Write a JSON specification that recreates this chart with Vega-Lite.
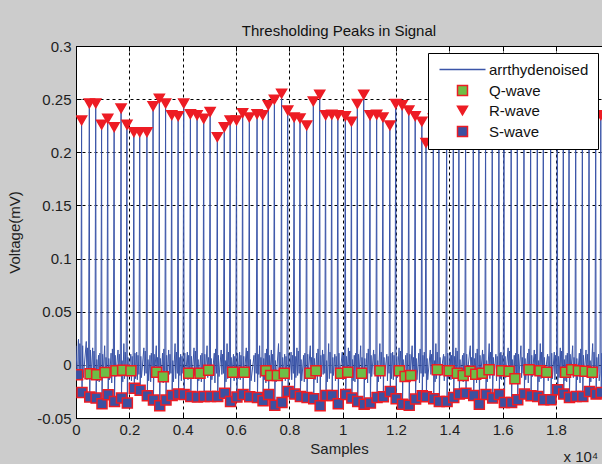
{
"$schema":"https://vega.github.io/schema/vega-lite/v6.json",
"autosize":{"type":"none"},
"padding":{"left":76,"top":46,"right":0,"bottom":46},
"width":526,"height":372,
"background":"#cccccc",
"title":{"text":"Thresholding Peaks in Signal","fontSize":15,"fontWeight":"normal","color":"#111111","font":"Liberation Sans","offset":0,"anchor":"middle"},
"config":{
"font":"Liberation Sans",
"view":{"stroke":"#000000","strokeWidth":1,"fill":"#ffffff"},
"axis":{"labelFont":"Liberation Sans","labelFontSize":15,"labelColor":"#1e1e1e","titleFont":"Liberation Sans","titleFontSize":15,"titleFontWeight":"normal","titleColor":"#1e1e1e","domainColor":"#000000","tickColor":"#000000","gridColor":"#000000","gridOpacity":1,"gridDash":[3,3],"gridWidth":1,"labelFlush":false}
},
"datasets":{
"sig":[
{"x":0,"y":0.018},{"x":0.003,"y":-0.004},{"x":0.006,"y":-0.0094},{"x":0.0085,"y":0.022},
{"x":0.0095,"y":0.024},{"x":0.012,"y":-0.012},{"x":0.0145,"y":0.02},{"x":0.018,"y":-0.008},{"x":0.021,"y":0.23},{"x":0.0225,"y":-0.026},{"x":0.025,"y":0.018},{"x":0.0275,"y":-0.012},
{"x":0.0385,"y":0.022},{"x":0.041,"y":-0.014},{"x":0.0435,"y":0.016},{"x":0.047,"y":-0.0084},{"x":0.05,"y":0.246},{"x":0.0515,"y":-0.0303},{"x":0.054,"y":0.014},{"x":0.0565,"y":-0.012},
{"x":0.0625,"y":0.016},{"x":0.065,"y":-0.01},{"x":0.0675,"y":0.013},{"x":0.071,"y":-0.0094},{"x":0.074,"y":0.246},{"x":0.0755,"y":-0.0313},{"x":0.078,"y":0.005},{"x":0.0805,"y":-0.015},
{"x":0.0845,"y":0.009},{"x":0.087,"y":-0.016},{"x":0.0895,"y":0.011},{"x":0.093,"y":-0.008},{"x":0.096,"y":0.226},{"x":0.0975,"y":-0.0366},{"x":0.1,"y":0.01},{"x":0.1025,"y":-0.009},
{"x":0.1075,"y":0.018},{"x":0.11,"y":-0.012},{"x":0.1125,"y":0.007},{"x":0.116,"y":-0.0072},{"x":0.119,"y":0.2316},{"x":0.1205,"y":-0.0281},{"x":0.123,"y":0.006},{"x":0.1255,"y":-0.014},
{"x":0.1315,"y":0.011},{"x":0.134,"y":-0.017},{"x":0.1365,"y":0.015},{"x":0.14,"y":-0.0056},{"x":0.143,"y":0.2237},{"x":0.1445,"y":-0.0344},{"x":0.147,"y":0.009},{"x":0.1495,"y":-0.011},
{"x":0.1575,"y":0.014},{"x":0.16,"y":-0.009},{"x":0.1625,"y":0.01},{"x":0.166,"y":-0.005},{"x":0.169,"y":0.2413},{"x":0.1705,"y":-0.0313},{"x":0.173,"y":0.004},{"x":0.1755,"y":-0.016},
{"x":0.1795,"y":0.02},{"x":0.182,"y":-0.013},{"x":0.1845,"y":0.012},{"x":0.188,"y":-0.0056},{"x":0.191,"y":0.226},{"x":0.1925,"y":-0.036},{"x":0.195,"y":0.007},{"x":0.1975,"y":-0.01},
{"x":0.2055,"y":0.01},{"x":0.208,"y":-0.015},{"x":0.2105,"y":0.008},{"x":0.214,"y":-0.008},{"x":0.217,"y":0.219},{"x":0.2185,"y":-0.0219},{"x":0.221,"y":0.011},{"x":0.2235,"y":-0.013},
{"x":0.2275,"y":0.012},{"x":0.23,"y":-0.014},{"x":0.2325,"y":0.009},{"x":0.236,"y":-0.009},{"x":0.239,"y":0.219},{"x":0.2405,"y":-0.0238},{"x":0.243,"y":0.008},{"x":0.2455,"y":-0.012},
{"x":0.2545,"y":0.016},{"x":0.257,"y":-0.01},{"x":0.2595,"y":0.013},{"x":0.263,"y":-0.008},{"x":0.266,"y":0.219},{"x":0.2675,"y":-0.029},{"x":0.27,"y":0.005},{"x":0.2725,"y":-0.015},
{"x":0.2775,"y":0.009},{"x":0.28,"y":-0.016},{"x":0.2825,"y":0.011},{"x":0.286,"y":-0.0069},{"x":0.289,"y":0.2434},{"x":0.2905,"y":-0.0331},{"x":0.293,"y":0.01},{"x":0.2955,"y":-0.009},
{"x":0.301,"y":0.018},{"x":0.3035,"y":-0.012},{"x":0.306,"y":0.007},{"x":0.3095,"y":-0.008},{"x":0.3125,"y":0.2506},{"x":0.314,"y":-0.0384},{"x":0.3165,"y":0.006},{"x":0.319,"y":-0.014},
{"x":0.3245,"y":0.011},{"x":0.327,"y":-0.017},{"x":0.3295,"y":0.015},{"x":0.333,"y":-0.0112},{"x":0.336,"y":0.246},{"x":0.3375,"y":-0.0331},{"x":0.34,"y":0.009},{"x":0.3425,"y":-0.011},
{"x":0.3475,"y":0.014},{"x":0.35,"y":-0.009},{"x":0.3525,"y":0.01},{"x":0.356,"y":-0.008},{"x":0.359,"y":0.235},{"x":0.3605,"y":-0.0288},{"x":0.363,"y":0.004},{"x":0.3655,"y":-0.016},
{"x":0.3715,"y":0.02},{"x":0.374,"y":-0.013},{"x":0.3765,"y":0.012},{"x":0.38,"y":-0.008},{"x":0.383,"y":0.234},{"x":0.3845,"y":-0.0275},{"x":0.387,"y":0.007},{"x":0.3895,"y":-0.01},
{"x":0.3925,"y":0.01},{"x":0.395,"y":-0.015},{"x":0.3975,"y":0.008},{"x":0.401,"y":-0.008},{"x":0.404,"y":0.246},{"x":0.4055,"y":-0.028},{"x":0.408,"y":0.011},{"x":0.4105,"y":-0.013},
{"x":0.4175,"y":0.012},{"x":0.42,"y":-0.014},{"x":0.4225,"y":0.009},{"x":0.426,"y":-0.0078},{"x":0.429,"y":0.236},{"x":0.4305,"y":-0.0297},{"x":0.433,"y":0.008},{"x":0.4355,"y":-0.012},
{"x":0.4425,"y":0.016},{"x":0.445,"y":-0.01},{"x":0.4475,"y":0.013},{"x":0.451,"y":-0.008},{"x":0.454,"y":0.235},{"x":0.4555,"y":-0.0303},{"x":0.458,"y":0.005},{"x":0.4605,"y":-0.015},
{"x":0.4675,"y":0.009},{"x":0.47,"y":-0.016},{"x":0.4725,"y":0.011},{"x":0.476,"y":-0.0078},{"x":0.479,"y":0.2316},{"x":0.4805,"y":-0.0297},{"x":0.483,"y":0.01},{"x":0.4855,"y":-0.009},
{"x":0.4915,"y":0.018},{"x":0.494,"y":-0.012},{"x":0.4965,"y":0.007},{"x":0.5,"y":-0.005},{"x":0.503,"y":0.238},{"x":0.5045,"y":-0.0297},{"x":0.507,"y":0.006},{"x":0.5095,"y":-0.014},
{"x":0.5185,"y":0.011},{"x":0.521,"y":-0.017},{"x":0.5235,"y":0.015},{"x":0.527,"y":-0.008},{"x":0.53,"y":0.2144},{"x":0.5315,"y":-0.0297},{"x":0.534,"y":0.009},{"x":0.5365,"y":-0.011},
{"x":0.5445,"y":0.014},{"x":0.547,"y":-0.009},{"x":0.5495,"y":0.01},{"x":0.553,"y":-0.008},{"x":0.556,"y":0.2237},{"x":0.5575,"y":-0.0266},{"x":0.56,"y":0.004},{"x":0.5625,"y":-0.016},
{"x":0.5665,"y":0.02},{"x":0.569,"y":-0.013},{"x":0.5715,"y":0.012},{"x":0.575,"y":-0.008},{"x":0.578,"y":0.23},{"x":0.5795,"y":-0.0344},{"x":0.582,"y":0.007},{"x":0.5845,"y":-0.01},
{"x":0.5905,"y":0.01},{"x":0.593,"y":-0.015},{"x":0.5955,"y":0.008},{"x":0.599,"y":-0.0069},{"x":0.602,"y":0.23},{"x":0.6035,"y":-0.0303},{"x":0.606,"y":0.011},{"x":0.6085,"y":-0.013},
{"x":0.6135,"y":0.012},{"x":0.616,"y":-0.014},{"x":0.6185,"y":0.009},{"x":0.622,"y":-0.0069},{"x":0.625,"y":0.237},{"x":0.6265,"y":-0.028},{"x":0.629,"y":0.008},{"x":0.6315,"y":-0.012},
{"x":0.6385,"y":0.016},{"x":0.641,"y":-0.01},{"x":0.6435,"y":0.013},{"x":0.647,"y":-0.008},{"x":0.65,"y":0.233},{"x":0.6515,"y":-0.03},{"x":0.654,"y":0.005},{"x":0.6565,"y":-0.015},
{"x":0.6675,"y":0.009},{"x":0.67,"y":-0.016},{"x":0.6725,"y":0.011},{"x":0.676,"y":-0.008},{"x":0.679,"y":0.236},{"x":0.6805,"y":-0.0306},{"x":0.683,"y":0.01},{"x":0.6855,"y":-0.009},
{"x":0.6885,"y":0.018},{"x":0.691,"y":-0.012},{"x":0.6935,"y":0.007},{"x":0.697,"y":-0.008},{"x":0.7,"y":0.235},{"x":0.7015,"y":-0.0338},{"x":0.704,"y":0.006},{"x":0.7065,"y":-0.014},
{"x":0.7095,"y":0.011},{"x":0.712,"y":-0.017},{"x":0.7145,"y":0.015},{"x":0.718,"y":-0.0056},{"x":0.721,"y":0.2444},{"x":0.7225,"y":-0.028},{"x":0.725,"y":0.009},{"x":0.7275,"y":-0.011},
{"x":0.7325,"y":0.014},{"x":0.735,"y":-0.009},{"x":0.7375,"y":0.01},{"x":0.741,"y":-0.01},{"x":0.744,"y":0.2497},{"x":0.7455,"y":-0.0381},{"x":0.748,"y":0.004},{"x":0.7505,"y":-0.016},
{"x":0.7595,"y":0.02},{"x":0.762,"y":-0.013},{"x":0.7645,"y":0.012},{"x":0.768,"y":-0.01},{"x":0.771,"y":0.2553},{"x":0.7725,"y":-0.0353},{"x":0.775,"y":0.007},{"x":0.7775,"y":-0.01},
{"x":0.7825,"y":0.01},{"x":0.785,"y":-0.015},{"x":0.7875,"y":0.008},{"x":0.791,"y":-0.0078},{"x":0.794,"y":0.2394},{"x":0.7955,"y":-0.025},{"x":0.798,"y":0.011},{"x":0.8005,"y":-0.013},
{"x":0.8065,"y":0.012},{"x":0.809,"y":-0.014},{"x":0.8115,"y":0.009},{"x":0.815,"y":-0.008},{"x":0.818,"y":0.233},{"x":0.8195,"y":-0.0275},{"x":0.822,"y":0.008},{"x":0.8245,"y":-0.012},
{"x":0.8285,"y":0.016},{"x":0.831,"y":-0.01},{"x":0.8335,"y":0.013},{"x":0.837,"y":-0.008},{"x":0.84,"y":0.232},{"x":0.8415,"y":-0.0297},{"x":0.844,"y":0.005},{"x":0.8465,"y":-0.015},
{"x":0.8535,"y":0.009},{"x":0.856,"y":-0.016},{"x":0.8585,"y":0.011},{"x":0.862,"y":-0.008},{"x":0.865,"y":0.2253},{"x":0.8665,"y":-0.0306},{"x":0.869,"y":0.01},{"x":0.8715,"y":-0.009},
{"x":0.8785,"y":0.018},{"x":0.881,"y":-0.012},{"x":0.8835,"y":0.007},{"x":0.887,"y":-0.0078},{"x":0.89,"y":0.248},{"x":0.8915,"y":-0.0319},{"x":0.894,"y":0.006},{"x":0.8965,"y":-0.014},
{"x":0.9025,"y":0.011},{"x":0.905,"y":-0.017},{"x":0.9075,"y":0.015},{"x":0.911,"y":-0.0056},{"x":0.914,"y":0.2544},{"x":0.9155,"y":-0.0384},{"x":0.918,"y":0.009},{"x":0.9205,"y":-0.011},
{"x":0.9245,"y":0.014},{"x":0.927,"y":-0.009},{"x":0.9295,"y":0.01},{"x":0.933,"y":-0.008},{"x":0.936,"y":0.235},{"x":0.9375,"y":-0.0288},{"x":0.94,"y":0.004},{"x":0.9425,"y":-0.016},
{"x":0.9475,"y":0.02},{"x":0.95,"y":-0.013},{"x":0.9525,"y":0.012},{"x":0.956,"y":-0.008},{"x":0.959,"y":0.2355},{"x":0.9605,"y":-0.0288},{"x":0.963,"y":0.007},{"x":0.9655,"y":-0.01},
{"x":0.9705,"y":0.01},{"x":0.973,"y":-0.015},{"x":0.9755,"y":0.008},{"x":0.979,"y":-0.008},{"x":0.982,"y":0.235},{"x":0.9835,"y":-0.0366},{"x":0.986,"y":0.011},{"x":0.9885,"y":-0.013},
{"x":0.9985,"y":0.012},{"x":1.001,"y":-0.014},{"x":1.0035,"y":0.009},{"x":1.007,"y":-0.0078},{"x":1.01,"y":0.234},{"x":1.0115,"y":-0.028},{"x":1.014,"y":0.008},{"x":1.0165,"y":-0.012},
{"x":1.0215,"y":0.016},{"x":1.024,"y":-0.01},{"x":1.0265,"y":0.013},{"x":1.03,"y":-0.0069},{"x":1.033,"y":0.229},{"x":1.0345,"y":-0.0313},{"x":1.037,"y":0.005},{"x":1.0395,"y":-0.015},
{"x":1.0435,"y":0.009},{"x":1.046,"y":-0.016},{"x":1.0485,"y":0.011},{"x":1.052,"y":-0.008},{"x":1.055,"y":0.2456},{"x":1.0565,"y":-0.0344},{"x":1.059,"y":0.01},{"x":1.0615,"y":-0.009},
{"x":1.0675,"y":0.018},{"x":1.07,"y":-0.012},{"x":1.0725,"y":0.007},{"x":1.076,"y":-0.0078},{"x":1.079,"y":0.2544},{"x":1.0805,"y":-0.037},{"x":1.083,"y":0.006},{"x":1.0855,"y":-0.014},
{"x":1.091,"y":0.011},{"x":1.0935,"y":-0.017},{"x":1.096,"y":0.015},{"x":1.0995,"y":-0.008},{"x":1.1025,"y":0.235},{"x":1.104,"y":-0.036},{"x":1.1065,"y":0.009},{"x":1.109,"y":-0.011},
{"x":1.116,"y":0.014},{"x":1.1185,"y":-0.009},{"x":1.121,"y":0.01},{"x":1.1245,"y":-0.008},{"x":1.1275,"y":0.2355},{"x":1.129,"y":-0.0306},{"x":1.1315,"y":0.004},{"x":1.134,"y":-0.016},
{"x":1.1395,"y":0.02},{"x":1.142,"y":-0.013},{"x":1.1445,"y":0.012},{"x":1.148,"y":-0.0056},{"x":1.151,"y":0.233},{"x":1.1525,"y":-0.03},{"x":1.155,"y":0.007},{"x":1.1575,"y":-0.01},
{"x":1.1655,"y":0.01},{"x":1.168,"y":-0.015},{"x":1.1705,"y":0.008},{"x":1.174,"y":-0.008},{"x":1.177,"y":0.2253},{"x":1.1785,"y":-0.025},{"x":1.181,"y":0.011},{"x":1.1835,"y":-0.013},
{"x":1.1875,"y":0.012},{"x":1.19,"y":-0.014},{"x":1.1925,"y":0.009},{"x":1.196,"y":-0.008},{"x":1.199,"y":0.2456},{"x":1.2005,"y":-0.0319},{"x":1.203,"y":0.008},{"x":1.2055,"y":-0.012},
{"x":1.2115,"y":0.016},{"x":1.214,"y":-0.01},{"x":1.2165,"y":0.013},{"x":1.22,"y":-0.0056},{"x":1.223,"y":0.2444},{"x":1.2245,"y":-0.037},{"x":1.227,"y":0.005},{"x":1.2295,"y":-0.015},
{"x":1.2365,"y":0.009},{"x":1.239,"y":-0.016},{"x":1.2415,"y":0.011},{"x":1.245,"y":-0.011},{"x":1.248,"y":0.2394},{"x":1.2495,"y":-0.0381},{"x":1.252,"y":0.01},{"x":1.2545,"y":-0.009},
{"x":1.2605,"y":0.018},{"x":1.263,"y":-0.012},{"x":1.2655,"y":0.007},{"x":1.269,"y":-0.01},{"x":1.272,"y":0.234},{"x":1.2735,"y":-0.0322},{"x":1.276,"y":0.006},{"x":1.2785,"y":-0.014},
{"x":1.2855,"y":0.011},{"x":1.288,"y":-0.017},{"x":1.2905,"y":0.015},{"x":1.294,"y":-0.008},{"x":1.297,"y":0.229},{"x":1.2985,"y":-0.029},{"x":1.301,"y":0.009},{"x":1.3035,"y":-0.011},
{"x":1.306,"y":0.012},{"x":1.3095,"y":-0.008},{"x":1.3125,"y":0.209},{"x":1.314,"y":-0.03},{"x":1.3165,"y":0.006},{"x":1.319,"y":-0.014},
{"x":1.3285,"y":0.014},{"x":1.331,"y":-0.009},{"x":1.3335,"y":0.01},{"x":1.337,"y":-0.008},{"x":1.34,"y":0.232},{"x":1.3415,"y":-0.0319},{"x":1.344,"y":0.004},{"x":1.3465,"y":-0.016},
{"x":1.3495,"y":0.02},{"x":1.352,"y":-0.013},{"x":1.3545,"y":0.012},{"x":1.358,"y":-0.0047},{"x":1.361,"y":0.238},{"x":1.3625,"y":-0.0344},{"x":1.365,"y":0.007},{"x":1.3675,"y":-0.01},
{"x":1.3785,"y":0.01},{"x":1.381,"y":-0.015},{"x":1.3835,"y":0.008},{"x":1.387,"y":-0.008},{"x":1.39,"y":0.229},{"x":1.3915,"y":-0.0344},{"x":1.394,"y":0.011},{"x":1.3965,"y":-0.013},
{"x":1.4035,"y":0.012},{"x":1.406,"y":-0.014},{"x":1.4085,"y":0.009},{"x":1.412,"y":-0.0056},{"x":1.415,"y":0.241},{"x":1.4165,"y":-0.0306},{"x":1.419,"y":0.008},{"x":1.4215,"y":-0.012},
{"x":1.4245,"y":0.016},{"x":1.427,"y":-0.01},{"x":1.4295,"y":0.013},{"x":1.433,"y":-0.0078},{"x":1.436,"y":0.236},{"x":1.4375,"y":-0.0275},{"x":1.44,"y":0.005},{"x":1.4425,"y":-0.015},
{"x":1.4495,"y":0.009},{"x":1.452,"y":-0.016},{"x":1.4545,"y":0.011},{"x":1.458,"y":-0.01},{"x":1.461,"y":0.233},{"x":1.4625,"y":-0.0266},{"x":1.465,"y":0.01},{"x":1.4675,"y":-0.009},
{"x":1.4785,"y":0.018},{"x":1.481,"y":-0.012},{"x":1.4835,"y":0.007},{"x":1.487,"y":-0.006},{"x":1.49,"y":0.244},{"x":1.4915,"y":-0.0288},{"x":1.494,"y":0.006},{"x":1.4965,"y":-0.014},
{"x":1.4995,"y":0.011},{"x":1.502,"y":-0.017},{"x":1.5045,"y":0.015},{"x":1.508,"y":-0.0088},{"x":1.511,"y":0.239},{"x":1.5125,"y":-0.037},{"x":1.515,"y":0.009},{"x":1.5175,"y":-0.011},
{"x":1.5245,"y":0.014},{"x":1.527,"y":-0.009},{"x":1.5295,"y":0.01},{"x":1.533,"y":-0.0078},{"x":1.536,"y":0.23},{"x":1.5375,"y":-0.028},{"x":1.54,"y":0.004},{"x":1.5425,"y":-0.016},
{"x":1.5495,"y":0.02},{"x":1.552,"y":-0.013},{"x":1.5545,"y":0.012},{"x":1.558,"y":-0.0047},{"x":1.561,"y":0.235},{"x":1.5625,"y":-0.0313},{"x":1.565,"y":0.007},{"x":1.5675,"y":-0.01},
{"x":1.5745,"y":0.01},{"x":1.577,"y":-0.015},{"x":1.5795,"y":0.008},{"x":1.583,"y":-0.008},{"x":1.586,"y":0.247},{"x":1.5875,"y":-0.028},{"x":1.59,"y":0.011},{"x":1.5925,"y":-0.013},
{"x":1.5935,"y":0.012},{"x":1.596,"y":-0.014},{"x":1.5985,"y":0.009},{"x":1.602,"y":-0.0056},{"x":1.605,"y":0.24},{"x":1.6065,"y":-0.0353},{"x":1.609,"y":0.008},{"x":1.6115,"y":-0.012},
{"x":1.6205,"y":0.016},{"x":1.623,"y":-0.01},{"x":1.6255,"y":0.013},{"x":1.629,"y":-0.006},{"x":1.632,"y":0.233},{"x":1.6335,"y":-0.0353},{"x":1.636,"y":0.005},{"x":1.6385,"y":-0.015},
{"x":1.6435,"y":0.009},{"x":1.646,"y":-0.016},{"x":1.6485,"y":0.011},{"x":1.652,"y":-0.0131},{"x":1.655,"y":0.228},{"x":1.6565,"y":-0.0328},{"x":1.659,"y":0.01},{"x":1.6615,"y":-0.009},
{"x":1.6685,"y":0.018},{"x":1.671,"y":-0.012},{"x":1.6735,"y":0.007},{"x":1.677,"y":-0.008},{"x":1.68,"y":0.236},{"x":1.6815,"y":-0.0275},{"x":1.684,"y":0.006},{"x":1.6865,"y":-0.014},
{"x":1.6935,"y":0.011},{"x":1.696,"y":-0.017},{"x":1.6985,"y":0.015},{"x":1.702,"y":-0.0047},{"x":1.705,"y":0.242},{"x":1.7065,"y":-0.029},{"x":1.709,"y":0.009},{"x":1.7115,"y":-0.011},
{"x":1.7185,"y":0.014},{"x":1.721,"y":-0.009},{"x":1.7235,"y":0.01},{"x":1.727,"y":-0.008},{"x":1.73,"y":0.238},{"x":1.7315,"y":-0.0297},{"x":1.734,"y":0.004},{"x":1.7365,"y":-0.016},
{"x":1.741,"y":0.02},{"x":1.7435,"y":-0.013},{"x":1.746,"y":0.012},{"x":1.7495,"y":-0.0056},{"x":1.7525,"y":0.231},{"x":1.754,"y":-0.0328},{"x":1.7565,"y":0.007},{"x":1.759,"y":-0.01},
{"x":1.7685,"y":0.01},{"x":1.771,"y":-0.015},{"x":1.7735,"y":0.008},{"x":1.777,"y":-0.0069},{"x":1.78,"y":0.234},{"x":1.7815,"y":-0.0328},{"x":1.784,"y":0.011},{"x":1.7865,"y":-0.013},
{"x":1.7935,"y":0.012},{"x":1.796,"y":-0.014},{"x":1.7985,"y":0.009},{"x":1.802,"y":-0.008},{"x":1.805,"y":0.245},{"x":1.8065,"y":-0.0234},{"x":1.809,"y":0.008},{"x":1.8115,"y":-0.012},
{"x":1.816,"y":0.016},{"x":1.8185,"y":-0.01},{"x":1.821,"y":0.013},{"x":1.8245,"y":-0.008},{"x":1.8275,"y":0.239},{"x":1.829,"y":-0.0275},{"x":1.8315,"y":0.005},{"x":1.834,"y":-0.015},
{"x":1.8375,"y":0.009},{"x":1.84,"y":-0.016},{"x":1.8425,"y":0.011},{"x":1.846,"y":-0.0069},{"x":1.849,"y":0.233},{"x":1.8505,"y":-0.0306},{"x":1.853,"y":0.01},{"x":1.8555,"y":-0.009},
{"x":1.8625,"y":0.018},{"x":1.865,"y":-0.012},{"x":1.8675,"y":0.007},{"x":1.871,"y":-0.0047},{"x":1.874,"y":0.237},{"x":1.8755,"y":-0.0297},{"x":1.878,"y":0.006},{"x":1.8805,"y":-0.014},
{"x":1.8875,"y":0.011},{"x":1.89,"y":-0.017},{"x":1.8925,"y":0.015},{"x":1.896,"y":-0.0056},{"x":1.899,"y":0.241},{"x":1.9005,"y":-0.0297},{"x":1.903,"y":0.009},{"x":1.9055,"y":-0.011},
{"x":1.9125,"y":0.014},{"x":1.915,"y":-0.009},{"x":1.9175,"y":0.01},{"x":1.921,"y":-0.006},{"x":1.924,"y":0.236},{"x":1.9255,"y":-0.025},{"x":1.928,"y":0.004},{"x":1.9305,"y":-0.016},
{"x":1.9375,"y":0.02},{"x":1.94,"y":-0.013},{"x":1.9425,"y":0.012},{"x":1.946,"y":-0.0069},{"x":1.949,"y":0.232},{"x":1.9505,"y":-0.0275},{"x":1.953,"y":0.007},{"x":1.9555,"y":-0.01},
{"x":1.9595,"y":0.01},{"x":1.962,"y":-0.015},{"x":1.965,"y":-0.008},{"x":1.968,"y":0.235},{"x":1.9695,"y":-0.026},{"x":1.972,"y":0.011},{"x":1.9725,"y":-0.012}
],
"mk":[
{"x":0.0525,"y":-0.0084,"series":"Q-wave"},{"x":0.0775,"y":-0.0094,"series":"Q-wave"},{"x":0.109,"y":-0.0072,"series":"Q-wave"},{"x":0.15,"y":-0.0056,"series":"Q-wave"},{"x":0.175,"y":-0.005,"series":"Q-wave"},{"x":0.206,"y":-0.0056,"series":"Q-wave"},{"x":0.3025,"y":-0.0069,"series":"Q-wave"},{"x":0.3275,"y":-0.0112,"series":"Q-wave"},{"x":0.4225,"y":-0.0078,"series":"Q-wave"},{"x":0.465,"y":-0.0078,"series":"Q-wave"},{"x":0.4975,"y":-0.005,"series":"Q-wave"},{"x":0.5875,"y":-0.0069,"series":"Q-wave"},{"x":0.631,"y":-0.0069,"series":"Q-wave"},{"x":0.7125,"y":-0.0056,"series":"Q-wave"},{"x":0.73,"y":-0.01,"series":"Q-wave"},{"x":0.755,"y":-0.01,"series":"Q-wave"},{"x":0.781,"y":-0.0078,"series":"Q-wave"},{"x":0.8775,"y":-0.0078,"series":"Q-wave"},{"x":0.9,"y":-0.0056,"series":"Q-wave"},{"x":0.9925,"y":-0.0078,"series":"Q-wave"},{"x":1.019,"y":-0.0069,"series":"Q-wave"},{"x":1.071,"y":-0.0078,"series":"Q-wave"},{"x":1.14,"y":-0.0056,"series":"Q-wave"},{"x":1.2125,"y":-0.0056,"series":"Q-wave"},{"x":1.234,"y":-0.011,"series":"Q-wave"},{"x":1.255,"y":-0.01,"series":"Q-wave"},{"x":1.355,"y":-0.0047,"series":"Q-wave"},{"x":1.399,"y":-0.0056,"series":"Q-wave"},{"x":1.43,"y":-0.0078,"series":"Q-wave"},{"x":1.452,"y":-0.01,"series":"Q-wave"},{"x":1.4775,"y":-0.006,"series":"Q-wave"},{"x":1.499,"y":-0.0088,"series":"Q-wave"},{"x":1.523,"y":-0.0078,"series":"Q-wave"},{"x":1.549,"y":-0.0047,"series":"Q-wave"},{"x":1.596,"y":-0.0056,"series":"Q-wave"},{"x":1.624,"y":-0.006,"series":"Q-wave"},{"x":1.646,"y":-0.0131,"series":"Q-wave"},{"x":1.699,"y":-0.0047,"series":"Q-wave"},{"x":1.74,"y":-0.0056,"series":"Q-wave"},{"x":1.765,"y":-0.0069,"series":"Q-wave"},{"x":1.836,"y":-0.0069,"series":"Q-wave"},{"x":1.859,"y":-0.0047,"series":"Q-wave"},{"x":1.884,"y":-0.0056,"series":"Q-wave"},{"x":1.909,"y":-0.006,"series":"Q-wave"},{"x":1.936,"y":-0.0069,"series":"Q-wave"},
{"x":0.006,"y":-0.0094,"series":"S-wave"},{"x":0.0225,"y":-0.026,"series":"S-wave"},{"x":0.0515,"y":-0.0303,"series":"S-wave"},{"x":0.0755,"y":-0.0313,"series":"S-wave"},{"x":0.0975,"y":-0.0366,"series":"S-wave"},{"x":0.1205,"y":-0.0281,"series":"S-wave"},{"x":0.1445,"y":-0.0344,"series":"S-wave"},{"x":0.1705,"y":-0.0313,"series":"S-wave"},{"x":0.1925,"y":-0.036,"series":"S-wave"},{"x":0.2185,"y":-0.0219,"series":"S-wave"},{"x":0.2405,"y":-0.0238,"series":"S-wave"},{"x":0.2675,"y":-0.029,"series":"S-wave"},{"x":0.2905,"y":-0.0331,"series":"S-wave"},{"x":0.314,"y":-0.0384,"series":"S-wave"},{"x":0.3375,"y":-0.0331,"series":"S-wave"},{"x":0.3605,"y":-0.0288,"series":"S-wave"},{"x":0.3845,"y":-0.0275,"series":"S-wave"},{"x":0.4055,"y":-0.028,"series":"S-wave"},{"x":0.4305,"y":-0.0297,"series":"S-wave"},{"x":0.4555,"y":-0.0303,"series":"S-wave"},{"x":0.4805,"y":-0.0297,"series":"S-wave"},{"x":0.5045,"y":-0.0297,"series":"S-wave"},{"x":0.5315,"y":-0.0297,"series":"S-wave"},{"x":0.5575,"y":-0.0266,"series":"S-wave"},{"x":0.5795,"y":-0.0344,"series":"S-wave"},{"x":0.6035,"y":-0.0303,"series":"S-wave"},{"x":0.6265,"y":-0.028,"series":"S-wave"},{"x":0.6515,"y":-0.03,"series":"S-wave"},{"x":0.6805,"y":-0.0306,"series":"S-wave"},{"x":0.7015,"y":-0.0338,"series":"S-wave"},{"x":0.7225,"y":-0.028,"series":"S-wave"},{"x":0.7455,"y":-0.0381,"series":"S-wave"},{"x":0.7725,"y":-0.0353,"series":"S-wave"},{"x":0.7955,"y":-0.025,"series":"S-wave"},{"x":0.8195,"y":-0.0275,"series":"S-wave"},{"x":0.8415,"y":-0.0297,"series":"S-wave"},{"x":0.8665,"y":-0.0306,"series":"S-wave"},{"x":0.8915,"y":-0.0319,"series":"S-wave"},{"x":0.9155,"y":-0.0384,"series":"S-wave"},{"x":0.9375,"y":-0.0288,"series":"S-wave"},{"x":0.9605,"y":-0.0288,"series":"S-wave"},{"x":0.9835,"y":-0.0366,"series":"S-wave"},{"x":1.0115,"y":-0.028,"series":"S-wave"},{"x":1.0345,"y":-0.0313,"series":"S-wave"},{"x":1.0565,"y":-0.0344,"series":"S-wave"},{"x":1.0805,"y":-0.037,"series":"S-wave"},{"x":1.104,"y":-0.036,"series":"S-wave"},{"x":1.129,"y":-0.0306,"series":"S-wave"},{"x":1.1525,"y":-0.03,"series":"S-wave"},{"x":1.1785,"y":-0.025,"series":"S-wave"},{"x":1.2005,"y":-0.0319,"series":"S-wave"},{"x":1.2245,"y":-0.037,"series":"S-wave"},{"x":1.2495,"y":-0.0381,"series":"S-wave"},{"x":1.2735,"y":-0.0322,"series":"S-wave"},{"x":1.2985,"y":-0.029,"series":"S-wave"},{"x":1.314,"y":-0.03,"series":"S-wave"},{"x":1.3415,"y":-0.0319,"series":"S-wave"},{"x":1.3625,"y":-0.0344,"series":"S-wave"},{"x":1.3915,"y":-0.0344,"series":"S-wave"},{"x":1.4165,"y":-0.0306,"series":"S-wave"},{"x":1.4375,"y":-0.0275,"series":"S-wave"},{"x":1.4625,"y":-0.0266,"series":"S-wave"},{"x":1.4915,"y":-0.0288,"series":"S-wave"},{"x":1.5125,"y":-0.037,"series":"S-wave"},{"x":1.5375,"y":-0.028,"series":"S-wave"},{"x":1.5625,"y":-0.0313,"series":"S-wave"},{"x":1.5875,"y":-0.028,"series":"S-wave"},{"x":1.6065,"y":-0.0353,"series":"S-wave"},{"x":1.6335,"y":-0.0353,"series":"S-wave"},{"x":1.6565,"y":-0.0328,"series":"S-wave"},{"x":1.6815,"y":-0.0275,"series":"S-wave"},{"x":1.7065,"y":-0.029,"series":"S-wave"},{"x":1.7315,"y":-0.0297,"series":"S-wave"},{"x":1.754,"y":-0.0328,"series":"S-wave"},{"x":1.7815,"y":-0.0328,"series":"S-wave"},{"x":1.8065,"y":-0.0234,"series":"S-wave"},{"x":1.829,"y":-0.0275,"series":"S-wave"},{"x":1.8505,"y":-0.0306,"series":"S-wave"},{"x":1.8755,"y":-0.0297,"series":"S-wave"},{"x":1.9005,"y":-0.0297,"series":"S-wave"},{"x":1.9255,"y":-0.025,"series":"S-wave"},{"x":1.9505,"y":-0.0275,"series":"S-wave"},{"x":1.9695,"y":-0.026,"series":"S-wave"},
{"x":0.021,"y":0.23,"series":"R-wave"},{"x":0.05,"y":0.246,"series":"R-wave"},{"x":0.074,"y":0.246,"series":"R-wave"},{"x":0.096,"y":0.226,"series":"R-wave"},{"x":0.119,"y":0.2316,"series":"R-wave"},{"x":0.143,"y":0.2237,"series":"R-wave"},{"x":0.169,"y":0.2413,"series":"R-wave"},{"x":0.191,"y":0.226,"series":"R-wave"},{"x":0.217,"y":0.219,"series":"R-wave"},{"x":0.239,"y":0.219,"series":"R-wave"},{"x":0.266,"y":0.219,"series":"R-wave"},{"x":0.289,"y":0.2434,"series":"R-wave"},{"x":0.3125,"y":0.2506,"series":"R-wave"},{"x":0.336,"y":0.246,"series":"R-wave"},{"x":0.359,"y":0.235,"series":"R-wave"},{"x":0.383,"y":0.234,"series":"R-wave"},{"x":0.404,"y":0.246,"series":"R-wave"},{"x":0.429,"y":0.236,"series":"R-wave"},{"x":0.454,"y":0.235,"series":"R-wave"},{"x":0.479,"y":0.2316,"series":"R-wave"},{"x":0.503,"y":0.238,"series":"R-wave"},{"x":0.53,"y":0.2144,"series":"R-wave"},{"x":0.556,"y":0.2237,"series":"R-wave"},{"x":0.578,"y":0.23,"series":"R-wave"},{"x":0.602,"y":0.23,"series":"R-wave"},{"x":0.625,"y":0.237,"series":"R-wave"},{"x":0.65,"y":0.233,"series":"R-wave"},{"x":0.679,"y":0.236,"series":"R-wave"},{"x":0.7,"y":0.235,"series":"R-wave"},{"x":0.721,"y":0.2444,"series":"R-wave"},{"x":0.744,"y":0.2497,"series":"R-wave"},{"x":0.771,"y":0.2553,"series":"R-wave"},{"x":0.794,"y":0.2394,"series":"R-wave"},{"x":0.818,"y":0.233,"series":"R-wave"},{"x":0.84,"y":0.232,"series":"R-wave"},{"x":0.865,"y":0.2253,"series":"R-wave"},{"x":0.89,"y":0.248,"series":"R-wave"},{"x":0.914,"y":0.2544,"series":"R-wave"},{"x":0.936,"y":0.235,"series":"R-wave"},{"x":0.959,"y":0.2355,"series":"R-wave"},{"x":0.982,"y":0.235,"series":"R-wave"},{"x":1.01,"y":0.234,"series":"R-wave"},{"x":1.033,"y":0.229,"series":"R-wave"},{"x":1.055,"y":0.2456,"series":"R-wave"},{"x":1.079,"y":0.2544,"series":"R-wave"},{"x":1.1025,"y":0.235,"series":"R-wave"},{"x":1.1275,"y":0.2355,"series":"R-wave"},{"x":1.151,"y":0.233,"series":"R-wave"},{"x":1.177,"y":0.2253,"series":"R-wave"},{"x":1.199,"y":0.2456,"series":"R-wave"},{"x":1.223,"y":0.2444,"series":"R-wave"},{"x":1.248,"y":0.2394,"series":"R-wave"},{"x":1.272,"y":0.234,"series":"R-wave"},{"x":1.297,"y":0.229,"series":"R-wave"},{"x":1.3125,"y":0.209,"series":"R-wave"},{"x":1.34,"y":0.232,"series":"R-wave"},{"x":1.361,"y":0.238,"series":"R-wave"},{"x":1.39,"y":0.229,"series":"R-wave"},{"x":1.415,"y":0.241,"series":"R-wave"},{"x":1.436,"y":0.236,"series":"R-wave"},{"x":1.461,"y":0.233,"series":"R-wave"},{"x":1.49,"y":0.244,"series":"R-wave"},{"x":1.511,"y":0.239,"series":"R-wave"},{"x":1.536,"y":0.23,"series":"R-wave"},{"x":1.561,"y":0.235,"series":"R-wave"},{"x":1.586,"y":0.247,"series":"R-wave"},{"x":1.605,"y":0.24,"series":"R-wave"},{"x":1.632,"y":0.233,"series":"R-wave"},{"x":1.655,"y":0.228,"series":"R-wave"},{"x":1.68,"y":0.236,"series":"R-wave"},{"x":1.705,"y":0.242,"series":"R-wave"},{"x":1.73,"y":0.238,"series":"R-wave"},{"x":1.7525,"y":0.231,"series":"R-wave"},{"x":1.78,"y":0.234,"series":"R-wave"},{"x":1.805,"y":0.245,"series":"R-wave"},{"x":1.8275,"y":0.239,"series":"R-wave"},{"x":1.849,"y":0.233,"series":"R-wave"},{"x":1.874,"y":0.237,"series":"R-wave"},{"x":1.899,"y":0.241,"series":"R-wave"},{"x":1.924,"y":0.236,"series":"R-wave"},{"x":1.949,"y":0.232,"series":"R-wave"},{"x":1.968,"y":0.235,"series":"R-wave"}
]
},
"encoding":{
"y":{"field":"y","type":"quantitative","scale":{"domain":[-0.05,0.3],"nice":false,"zero":false},
"axis":{"title":"Voltage(mV)","values":[-0.05,0,0.05,0.1,0.15,0.2,0.25,0.3],"labelExpr":"datum.value < 0 ? '-' + format(-datum.value, '~f') : format(datum.value, '~f')","tickSize":-5,"labelPadding":10,"titlePadding":14,"grid":true,"domainColor":"#000000"}}
},
"layer":[
{"data":{"name":"sig"},
"mark":{"type":"line","color":"#3b55a8","strokeWidth":1,"clip":true,"interpolate":"linear"},
"encoding":{
"x":{"field":"x","type":"quantitative","scale":{"domain":[0,1.9725],"nice":false,"zero":false},
"axis":{"orient":"bottom","title":"Samples","values":[0,0.2,0.4,0.6,0.8,1,1.2,1.4,1.6,1.8],"labelExpr":"format(datum.value, '~f')","tickSize":-5,"labelPadding":9,"titlePadding":4,"grid":true}}
}},
{"data":{"name":"mk"},
"mark":{"type":"point","filled":true,"size":100,"strokeWidth":1.5,"opacity":1,"clip":true},
"encoding":{
"x":{"field":"x","type":"quantitative","scale":{"domain":[0,1.9725],"nice":false,"zero":false},
"axis":{"orient":"top","title":"x 10⁴","titleX":487,"titleY":415,"titleAlign":"left","titleBaseline":"alphabetic","titleAngle":0,"values":[0,0.2,0.4,0.6,0.8,1,1.2,1.4,1.6,1.8],"labels":false,"tickSize":-5,"domain":false,"grid":false}},
"shape":{"field":"series","type":"nominal","scale":{"domain":["arrthydenoised","Q-wave","R-wave","S-wave"],"range":["M-4.6,0H4.6","square","triangle-down","square"]},
"legend":{"title":null,"orient":"none","legendX":352,"legendY":7,"fillColor":"#ffffff","strokeColor":"#000000","padding":9,"labelFont":"Liberation Sans","labelFontSize":15,"labelColor":"#111111","symbolSize":100,"symbolStrokeWidth":1.5,"symbolOpacity":1,"symbolOffset":18,"labelOffset":19,"rowPadding":4}},
"fill":{"field":"series","type":"nominal","scale":{"domain":["arrthydenoised","Q-wave","R-wave","S-wave"],"range":["#3b55a8","#6ebe46","#ed1c24","#3c50a0"]}},
"stroke":{"field":"series","type":"nominal","scale":{"domain":["arrthydenoised","Q-wave","R-wave","S-wave"],"range":["#3b55a8","#ed1c24","#ed1c24","#ed1c24"]}}
}}
],
"resolve":{"axis":{"x":"independent"}}
}
